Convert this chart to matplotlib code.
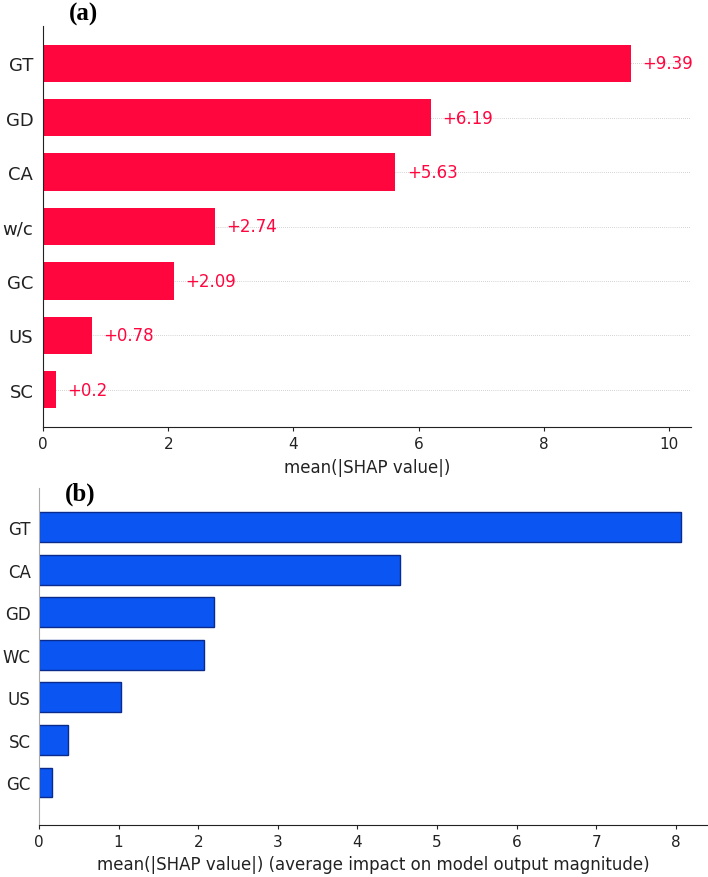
import matplotlib
matplotlib.use("Agg")
import matplotlib.pyplot as plt
import numpy as np

# panel (a) - ordered top to bottom
features_a = ["GT", "GD", "CA", "w/c", "GC", "US", "SC"]
values_a = [9.39, 6.19, 5.63, 2.74, 2.09, 0.78, 0.2]
xticks_a = [0, 2, 4, 6, 8, 10]

# panel (b) - ordered top to bottom
features_b = ["GT", "CA", "GD", "WC", "US", "SC", "GC"]
values_b = [8.06, 4.53, 2.20, 2.07, 1.03, 0.37, 0.16]
xticks_b = [0, 1, 2, 3, 4, 5, 6, 7, 8]

RED = "#ff063f"
BLUE = "#0b55f2"
W, H = 708, 878

fig = plt.figure(figsize=(W / 100, H / 100), dpi=100)


def box(left, right, top, bottom):
    return [left / W, 1 - bottom / H, (right - left) / W, (bottom - top) / H]


# ---------- (a) ----------
ax = fig.add_axes(box(43, 691, 27, 428))
n = len(features_a)
y = np.arange(n)[::-1]
for yi in y:
    ax.axhline(yi, color="#aaaaaa", lw=0.5, dashes=(1, 2), zorder=-1)
ax.barh(y, values_a, height=0.68, color=RED, zorder=2)
for yi, v in zip(y, values_a):
    ax.text(v + 0.18, yi, f"+{v:g}", color=RED, fontsize=12, va="center", ha="left")
ax.set_yticks(y)
ax.set_yticklabels(features_a, fontsize=13, color="#222222")
ax.set_ylim(-0.68, n - 1 + 0.68)
ax.set_xlim(0, 10.35)
ax.set_xticks(xticks_a)
ax.tick_params(axis="x", labelsize=11, length=3, colors="#222222")
ax.tick_params(axis="y", length=0, pad=7)
ax.set_xlabel("mean(|SHAP value|)", fontsize=12, color="#222222", labelpad=5)
for s in ["top", "right"]:
    ax.spines[s].set_visible(False)
ax.spines["left"].set_color("#222222")
ax.spines["bottom"].set_color("#222222")
fig.text(84 / W, 1 - 14 / H, "(a)", family="Liberation Serif", weight="bold",
         fontsize=18, ha="center", va="center")

# ---------- (b) ----------
bx = fig.add_axes(box(39, 707, 489, 826))
n = len(features_b)
y = np.arange(n)[::-1]
bx.barh(y, values_b, height=0.7, color=BLUE, edgecolor="#0a2a8c", linewidth=1.0)
bx.set_yticks(y)
bx.set_yticklabels(features_b, fontsize=12, color="#222222")
bx.set_ylim(-1.0, n - 1 + 0.92)
bx.set_xlim(0, 8.39)
bx.set_xticks(xticks_b)
bx.tick_params(axis="x", labelsize=11, length=3, colors="#222222")
bx.tick_params(axis="y", length=0, pad=6)
bx.set_xlabel("mean(|SHAP value|) (average impact on model output magnitude)",
              fontsize=12, color="#222222", labelpad=4)
for s in ["top", "right"]:
    bx.spines[s].set_visible(False)
bx.spines["left"].set_color("#aaaaaa")
bx.spines["bottom"].set_color("#222222")
fig.text(80 / W, 1 - 494 / H, "(b)", family="Liberation Serif", weight="bold",
         fontsize=18, ha="center", va="center")

fig.savefig("out.png", dpi=100)
